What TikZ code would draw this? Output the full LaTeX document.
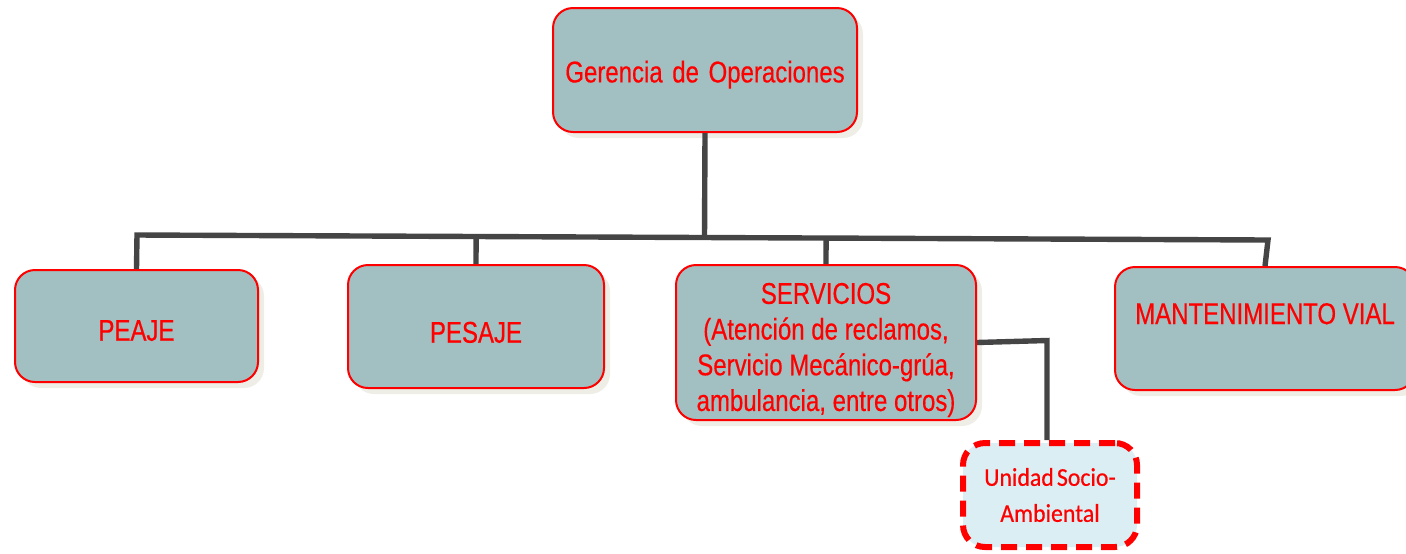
\documentclass[tikz,border=0pt]{standalone}
\usepackage{fontspec}
\setmainfont{Liberation Sans}
\newfontfamily\boxfont[FakeStretch=0.8,FakeBold=0.4]{Liberation Sans}
\newfontfamily\unifont[FakeStretch=0.93,FakeBold=0.5]{Carlito}
\usetikzlibrary{shadows,calc}
\definecolor{boxfill}{HTML}{A2BFC1}
\definecolor{unifill}{HTML}{DAEEF3}
\definecolor{linegray}{HTML}{454545}
\definecolor{shadowcol}{HTML}{EEEDE6}
\begin{document}
\begin{tikzpicture}[x=0.5pt,y=-0.5pt,
  orgbox/.style={draw=red, line width=1pt, fill=boxfill, rounded corners=10pt,
    font=\boxfont\fontsize{15}{17.85}\selectfont, text=red, align=center, inner sep=0pt,
    drop shadow={shadow xshift=3pt, shadow yshift=-3pt, fill=shadowcol, opacity=1}},
  unibox/.style={draw=red, line width=3pt, dash pattern=on 8pt off 4.5pt, fill=unifill,
    rounded corners=11pt, font=\unifont\fontsize{12.8}{18}\selectfont, text=red,
    align=center, inner sep=0pt, minimum width=87pt, minimum height=52pt},
  conn/.style={draw=linegray, line width=2.7pt},
]
\useasboundingbox (0,0) rectangle (1406,553);
% nodes
\node[orgbox, minimum width=152pt, minimum height=62pt, text height=12.4pt, text depth=0pt] (ger) at (705,70) {Gerencia\hspace{0.32em}de\hspace{0.32em}Operaciones};
\node[orgbox, minimum width=121.5pt, minimum height=56pt, text height=14.7pt, text depth=0pt] (pea) at (136.5,326) {PEAJE};
\node[orgbox, minimum width=128pt, minimum height=61.5pt, text height=16.2pt, text depth=0pt] (pes) at (476,326.5) {PESAJE};
\node[orgbox, minimum width=150pt, minimum height=77.5pt] (ser) at (826,342.5)
  {\rule{0pt}{18pt}SERVICIOS\\(Atención de reclamos,\\Servicio Mecánico-grúa,\\ambulancia, entre otros)};
\node[orgbox, minimum width=150pt, minimum height=61.5pt, text height=10.74pt, text depth=15.2pt] (man) at (1265,328.5) {MANTENIMIENTO VIAL};
\node[unibox] (uni) at (1050,495) {Unidad\hspace{0.12em}Socio-\\Ambiental};
% connectors
\coordinate (bl) at (137,235);
\coordinate (br) at (1268,240);
\draw[conn] (pea.north) -- (bl) -- (br) -- (man.north);
\draw[conn] (ger.south) -- ($(bl)!(ger.south)!(br)$);
\draw[conn] (pes.north) -- ($(bl)!(pes.north)!(br)$);
\draw[conn] (ser.north) -- ($(bl)!(ser.north)!(br)$);
\draw[conn] (ser.east) -- ++(70,-2) coordinate (sk) -- (sk |- uni.north);
\end{tikzpicture}
\end{document}
